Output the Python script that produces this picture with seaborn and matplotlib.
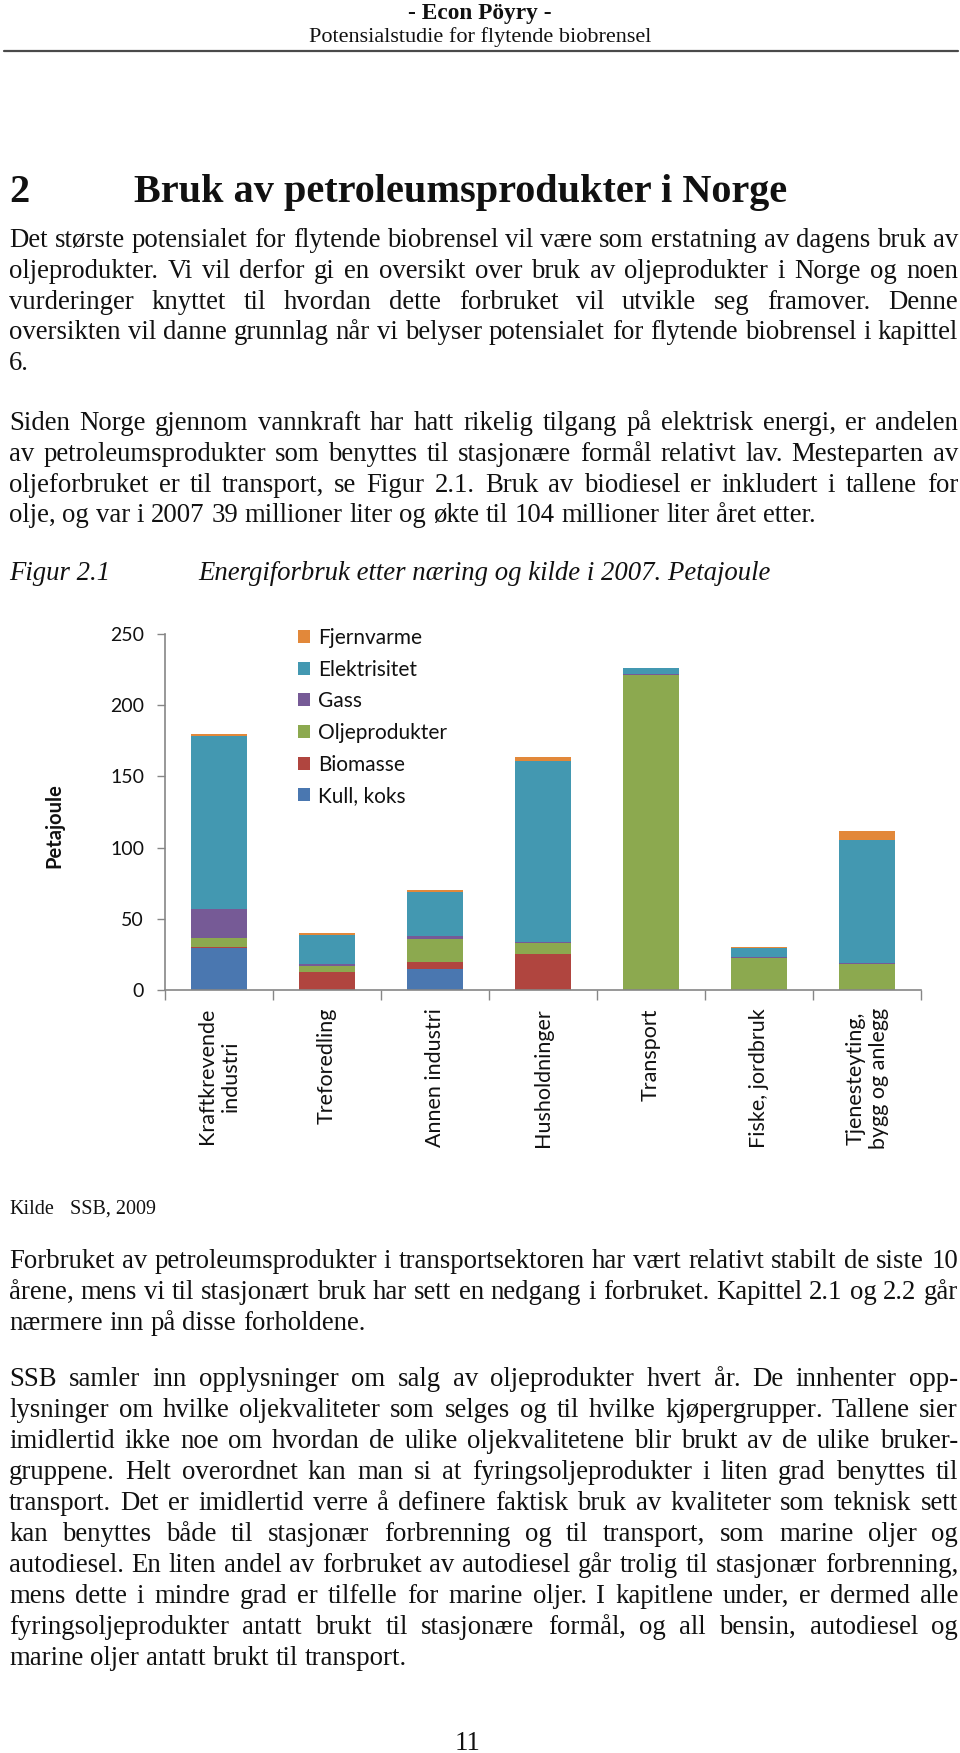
import matplotlib
matplotlib.use("Agg")
import matplotlib.pyplot as plt
import seaborn as sns
import pandas as pd
import numpy as np
from matplotlib.lines import Line2D
from matplotlib.patches import Patch

# Chart data (Petajoule, 2007)
categories = ["Kraftkrevende\nindustri", "Treforedling", "Annen industri", "Husholdninger",
              "Transport", "Fiske, jordbruk", "Tjenesteyting,\nbygg og anlegg"]
kull = [29.3, 0.0, 14.5, 0.0, 0.0, 0.0, 0.0]
biomasse = [1.1, 12.9, 4.9, 25.3, 0.0, 0.0, 0.0]
oljeprodukter = [5.9, 4.0, 16.2, 7.5, 221.2, 22.2, 18.3]
gass = [20.3, 1.1, 2.3, 1.1, 0.5, 1.2, 0.9]
elektrisitet = [122.0, 20.6, 31.1, 126.9, 4.2, 5.9, 86.1]
fjernvarme = [1.4, 1.2, 1.5, 3.1, 0.0, 1.1, 6.4]

series = ["Kull, koks", "Biomasse", "Oljeprodukter", "Gass", "Elektrisitet", "Fjernvarme"]
colors = ["#4A77B0", "#B0453F", "#8CA94F", "#765A96", "#4398B1", "#E2883A"]

# Page text
header1 = "- Econ Pöyry -"
header2 = "Potensialstudie for flytende biobrensel"
heading_no = "2"
heading = "Bruk av petroleumsprodukter i Norge"
para1 = ["Det største potensialet for flytende biobrensel vil være som erstatning av dagens bruk av",
         "oljeprodukter. Vi vil derfor gi en oversikt over bruk av oljeprodukter i Norge og noen",
         "vurderinger knyttet til hvordan dette forbruket vil utvikle seg framover. Denne",
         "oversikten vil danne grunnlag når vi belyser potensialet for flytende biobrensel i kapittel",
         "6."]
para2 = ["Siden Norge gjennom vannkraft har hatt rikelig tilgang på elektrisk energi, er andelen",
         "av petroleumsprodukter som benyttes til stasjonære formål relativt lav. Mesteparten av",
         "oljeforbruket er til transport, se Figur 2.1. Bruk av biodiesel er inkludert i tallene for",
         "olje, og var i 2007 39 millioner liter og økte til 104 millioner liter året etter."]
para3 = ["Forbruket av petroleumsprodukter i transportsektoren har vært relativt stabilt de siste 10",
         "årene, mens vi til stasjonært bruk har sett en nedgang i forbruket. Kapittel 2.1 og 2.2 går",
         "nærmere inn på disse forholdene."]
para4 = ["SSB samler inn opplysninger om salg av oljeprodukter hvert år. De innhenter opp-",
         "lysninger om hvilke oljekvaliteter som selges og til hvilke kjøpergrupper. Tallene sier",
         "imidlertid ikke noe om hvordan de ulike oljekvalitetene blir brukt av de ulike bruker-",
         "gruppene. Helt overordnet kan man si at fyringsoljeprodukter i liten grad benyttes til",
         "transport. Det er imidlertid verre å definere faktisk bruk av kvaliteter som teknisk sett",
         "kan benyttes både til stasjonær forbrenning og til transport, som marine oljer og",
         "autodiesel. En liten andel av forbruket av autodiesel går trolig til stasjonær forbrenning,",
         "mens dette i mindre grad er tilfelle for marine oljer. I kapitlene under, er dermed alle",
         "fyringsoljeprodukter antatt brukt til stasjonære formål, og all bensin, autodiesel og",
         "marine oljer antatt brukt til transport."]

sns.set_theme(style="white")
plt.rcParams["font.family"] = ["Lato", "DejaVu Sans"]

W, H = 960, 1753
fig = plt.figure(figsize=(W / 100, H / 100), dpi=100)
renderer = fig.canvas.get_renderer()
SERIF = "Liberation Serif"
LEFT, RIGHT = 9, 958


def fx(x):
    return x / W


def fy(y):
    return 1 - y / H


def width_of(s, **kw):
    t = fig.text(0, 0, s, **kw)
    w = t.get_window_extent(renderer).width
    t.remove()
    return w


def fit_size(s, target, base=20, **kw):
    return base * target / width_of(s, fontsize=base, **kw)


def put_word(word, x, y, wd, kw):
    # accented word + comma sat too high when drawn as one piece, so split those
    core = word.rstrip(",.")
    if core != word and not core.isascii():
        tail = word[len(core):]
        fig.text(fx(x), fy(y), core, ha="left", va="baseline", **kw)
        fig.text(fx(x + wd), fy(y), tail, ha="right", va="baseline", **kw)
    else:
        fig.text(fx(x), fy(y), word, ha="left", va="baseline", **kw)


def put_line(line, y, size, justify=True, x0=LEFT, x1=RIGHT, **kw):
    words = line.split(" ")
    kw = dict(family=SERIF, fontsize=size, color="#111111", **kw)
    widths = [width_of(w, **kw) for w in words]
    space = width_of("x x", **kw) - width_of("xx", **kw)
    gap = (x1 - x0 - sum(widths)) / (len(words) - 1) if (justify and len(words) > 1) else space
    x = x0
    for w, wd in zip(words, widths):
        put_word(w, x, y, wd, kw)
        x += wd + gap


def put_para(lines, y0, step, size):
    for i, line in enumerate(lines):
        put_line(line, y0 + i * step, size, justify=(i < len(lines) - 1))


# body size: the tightest justified line fits with normal word spacing
justified = para1[:-1] + para2[:-1] + para3[:-1] + para4[:-1]
body = min(fit_size(l, RIGHT - LEFT, family=SERIF) for l in justified) * 0.995

# header
fig.text(0.5, fy(19), header1, ha="center", va="baseline", family=SERIF, fontweight="bold",
         fontsize=fit_size(header1, 143, family=SERIF, fontweight="bold"), color="#111111")
fig.text(0.5, fy(42), header2, ha="center", va="baseline", family=SERIF,
         fontsize=fit_size(header2, 344, family=SERIF), color="#111111")
fig.add_artist(Line2D([fx(4), fx(958)], [fy(50.7)] * 2, color="#4a4a4a", lw=1.6))

# heading
hsize = fit_size(heading, 654, family=SERIF, fontweight="bold")
fig.text(fx(LEFT), fy(202), heading_no, ha="left", va="baseline", family=SERIF,
         fontweight="bold", fontsize=hsize, color="#111111")
fig.text(fx(134), fy(202), heading, ha="left", va="baseline", family=SERIF,
         fontweight="bold", fontsize=hsize, color="#111111")

put_para(para1, 247, 30.8, body)
put_para(para2, 430, 30.8, body)

# figure caption
fig.text(fx(LEFT), fy(580), "Figur 2.1", ha="left", va="baseline", family=SERIF,
         style="italic", fontsize=body, color="#111111")
fig.text(fx(198), fy(580), "Energiforbruk etter næring og kilde i 2007. Petajoule", ha="left",
         va="baseline", family=SERIF, style="italic", fontsize=body, color="#111111")

# chart
ax = fig.add_axes([fx(165), fy(990), (921 - 165) / W, 356 / H])
df = pd.DataFrame(dict(zip(series, [kull, biomasse, oljeprodukter, gass, elektrisitet, fjernvarme])))
df["Kategori"] = categories
cum = df[series].cumsum(axis=1)
for name, col in reversed(list(zip(series, colors))):
    sns.barplot(x=df["Kategori"], y=cum[name], color=col, width=0.52, saturation=1,
                errorbar=None, linewidth=0, ax=ax)

gray = "#868686"
ax.set_ylim(0, 250)
ax.set_xlim(-0.5, len(categories) - 0.5)
ax.set_yticks(range(0, 251, 50))
ax.set_xticks(np.arange(-0.5, len(categories), 1), minor=True)
ax.set_xticklabels(categories, rotation=90, ha="center", va="top", fontsize=15.5)
ax.tick_params(axis="x", which="major", length=0, pad=13, labelcolor="#111111")
ax.tick_params(axis="x", which="minor", length=7, width=1, color=gray, bottom=True)
ax.tick_params(axis="y", length=6, width=1, color=gray, labelsize=14, pad=9,
               labelcolor="#111111", left=True)
ax.set_xlabel("")
ax.set_ylabel("")
sns.despine(ax=ax)
for s in ["left", "bottom"]:
    ax.spines[s].set_color(gray)
    ax.spines[s].set_linewidth(1.2)

fig.text(fx(54), fy(826), "Petajoule", rotation=90, ha="center", va="center",
         fontsize=14.5, fontweight="bold", color="#111111")

handles = [Patch(facecolor=c, edgecolor="none") for c in colors][::-1]
ax.legend(handles, series[::-1], loc="upper left", bbox_to_anchor=(fx(298), fy(628)),
          bbox_transform=fig.transFigure, frameon=False, fontsize=15, borderpad=0,
          borderaxespad=0, handlelength=0.58, handleheight=0.58, handletextpad=0.4,
          labelspacing=0.56, labelcolor="#111111")

# source
ksize = fit_size("SSB, 2009", 86, family=SERIF)
fig.text(fx(LEFT), fy(1214), "Kilde", ha="left", va="baseline", family=SERIF,
         fontsize=ksize, color="#111111")
fig.text(fx(70), fy(1214), "SSB, 2009", ha="left", va="baseline", family=SERIF,
         fontsize=ksize, color="#111111")

put_para(para3, 1268, 31.2, body)
put_para(para4, 1386, 31.0, body)

fig.text(fx(467), fy(1750), "11", ha="center", va="baseline", family=SERIF,
         fontsize=body, color="#111111")

fig.savefig("out.png", dpi=100)
